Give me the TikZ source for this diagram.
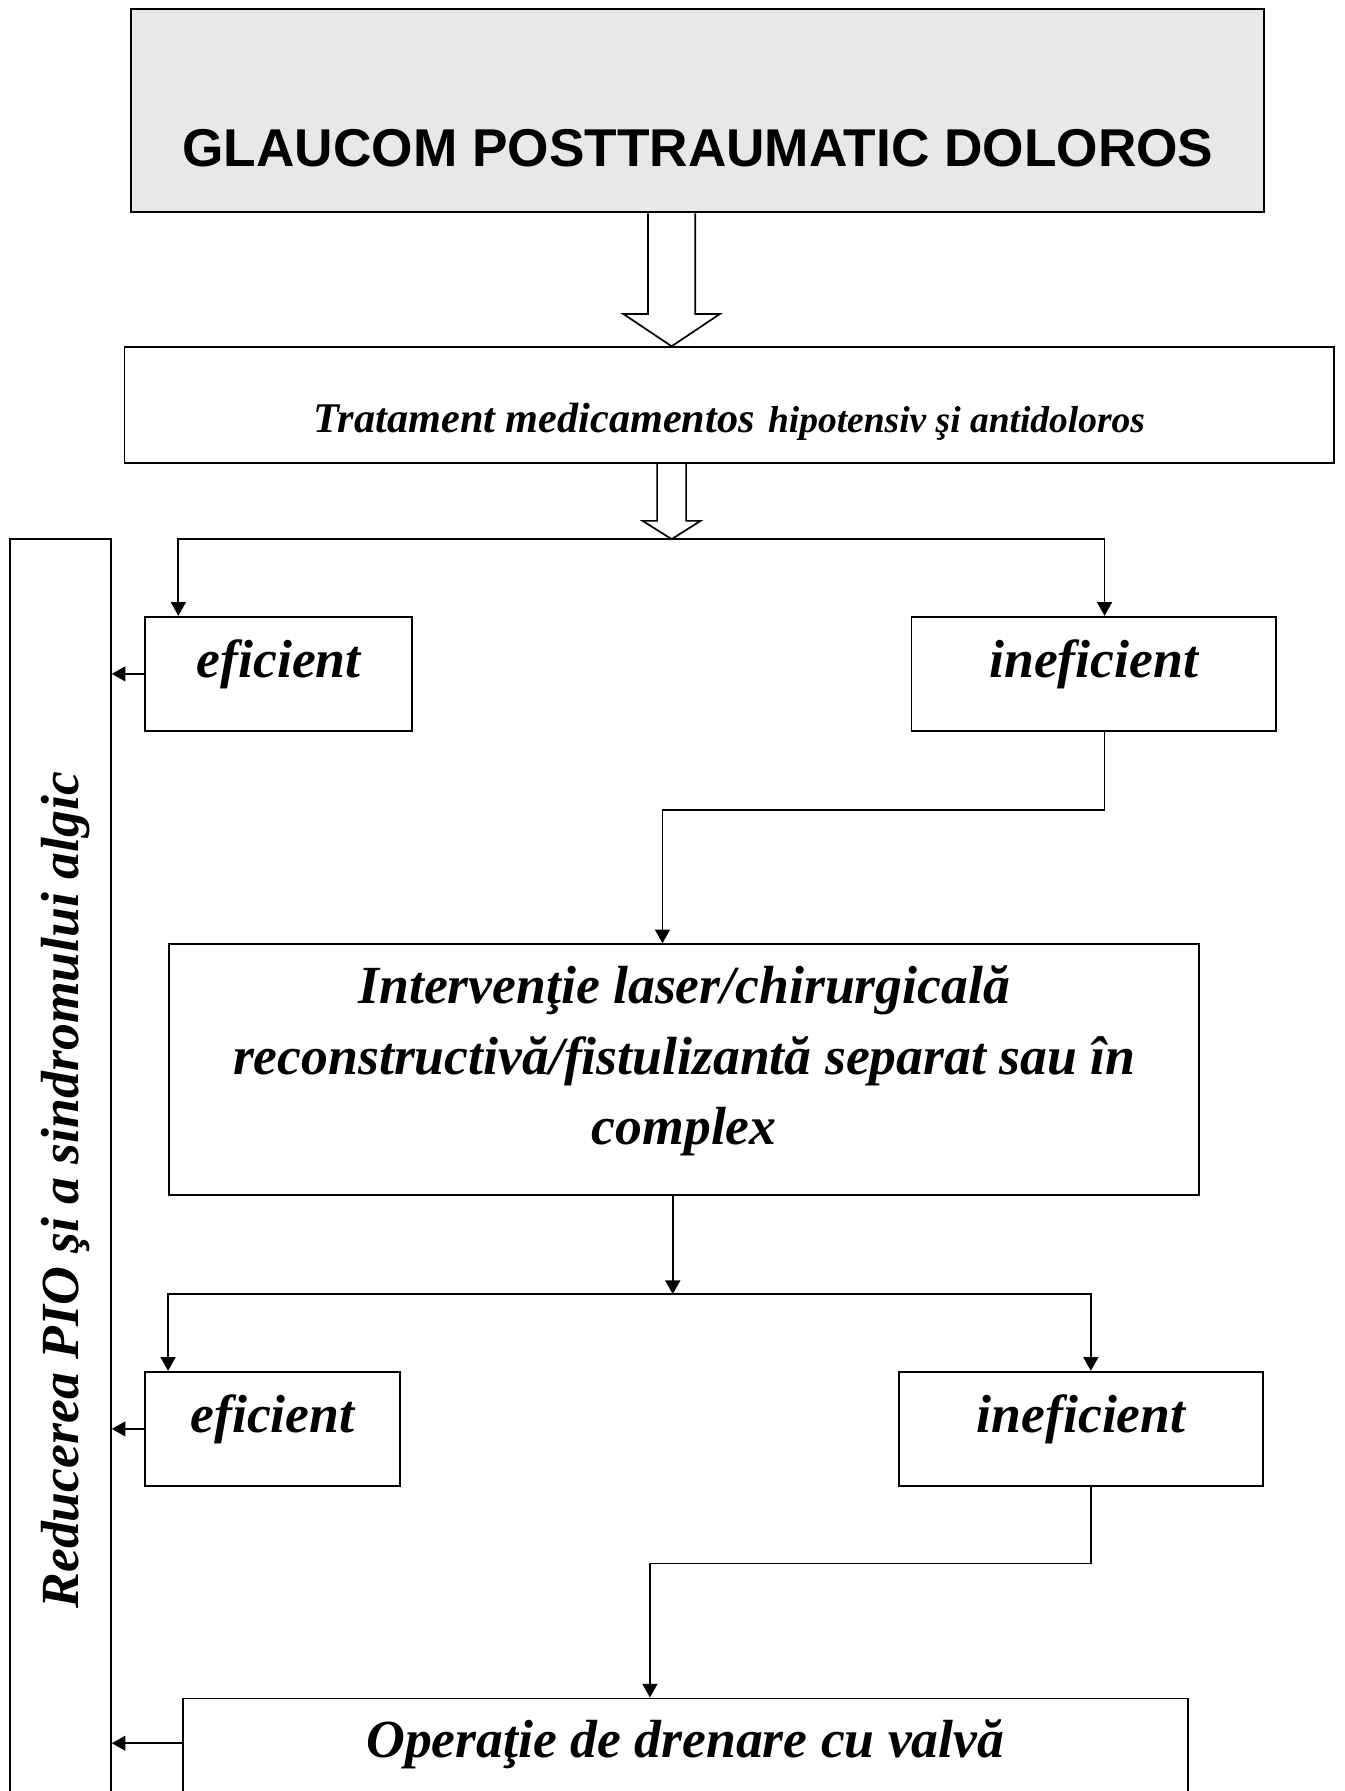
\documentclass[tikz,border=0pt]{standalone}
\usepackage{fontspec}
\setmainfont{Liberation Serif}
\newfontfamily\arialfont{Liberation Sans}
\usetikzlibrary{shapes,arrows.meta,calc}

\begin{document}
\begin{tikzpicture}[x=0.5pt,y=-0.5pt]
    \tikzset{caja/.style = {shape=rectangle,draw,line width=0.85pt,inner sep=0pt,align=center,font=\fontsize{23.5}{30.8}\selectfont\bfseries\itshape}}
    \tikzset{Titulo/.style = {caja,fill=black!9,font=\fontsize{23.3}{28}\selectfont\arialfont\bfseries}}
    \tikzset{Lateral/.style = {caja,rotate=90}}
    \tikzset{Resultado/.style = {caja,text height=26.4pt,text depth=23.6pt}}

    \tikzset{flecha/.style = {-{Triangle[length=6pt,width=6.5pt]},line width=0.8pt}}
    \tikzset{hueca/.style = {line width=0.75pt,line join=miter}}

    \useasboundingbox (0,0) rectangle (1177,1568);
    \clip (0,0) rectangle (1177,1568);

    \node[Titulo, minimum width=496pt, text height=68.8pt, text depth=20.2pt] (titulo) at (611,97) {GLAUCOM POSTTRAUMATIC DOLOROS};
    \node[caja, minimum width=529.5pt, text height=37.5pt, text depth=13pt] (tratamiento) at (638.5,354.5)
        {{\fontsize{18.5}{22}\selectfont Tratament medicamentos} {\fontsize{16.4}{20}\selectfont hipotensiv şi antidoloros}};

    \node[Resultado, minimum width=117pt] (efic1) at (244,590) {eficient};
    \node[Resultado, minimum width=159.5pt] (inefic1) at (957.5,590) {ineficient};

    \node[caja, minimum width=451pt, text height=87.6pt, text depth=22.3pt] (interv) at (599,936.6)
        {Intervenţie laser/chirurgicală\\ reconstructivă/fistulizantă separat sau în\\ complex};

    \node[Resultado, minimum width=111.5pt] (efic2) at (238.5,1251) {eficient};
    \node[Resultado, minimum width=159.5pt] (inefic2) at (946.5,1251) {ineficient};

    \node[caja, minimum width=440pt, text height=26pt, text depth=74pt] (drenaj) at (600,1587) {Operaţie de drenare cu valvă};

    \node[Lateral, minimum width=570pt, text height=29.75pt, text depth=14.25pt] (reducerea) at (53,1042) {Reducerea PIO şi a sindromului algic};

    % flechas huecas
    \coordinate (eje) at (588,0);
    \coordinate (bif1) at (588,472);
    \draw[hueca] let \p1=(titulo.south -| eje), \p2=(tratamiento.north -| eje) in
        (\x1-10.35pt,\y1) -- (\x1-10.35pt,\y2+14.15pt) -- (\x1-21.15pt,\y2+14.15pt) -- (\x2,\y2)
        -- (\x1+21.15pt,\y2+14.15pt) -- (\x1+10.35pt,\y2+14.15pt) -- (\x1+10.35pt,\y1);
    \draw[hueca] let \p1=(tratamiento.south -| eje), \p2=(bif1) in
        (\x1-6.35pt,\y1) -- (\x1-6.35pt,\y2+8pt) -- (\x1-12.7pt,\y2+8pt) -- (\x2,\y2)
        -- (\x1+12.7pt,\y2+8pt) -- (\x1+6.35pt,\y2+8pt) -- (\x1+6.35pt,\y1);

    \draw[flecha] (bif1) -| ($(efic1.north west)+(30,0)$);
    \draw[flecha] (bif1) -| ($(inefic1.north)+(9.5,0)$);
    \draw[flecha] ($(inefic1.south)+(9.5,0)$) -- ++(0,68) -| ($(interv.north)+(-19,0)$);

    \coordinate (bif2) at (589,1133);
    \draw[flecha] ($(interv.south)+(-10,0)$) -- (bif2);
    \draw[flecha] (bif2) -| ($(efic2.north west)+(21,0)$);
    \draw[flecha] (bif2) -| ($(inefic2.north)+(8.5,0)$);
    \draw[flecha] ($(inefic2.south)+(8.5,0)$) -- ++(0,67) -| ($(drenaj.north)+(-31,0)$);

    % hacia la caja lateral
    \coordinate (salida) at ($(drenaj.north west)+(0,40)$);
    \draw[flecha] (efic1.west) -- (efic1.west -| reducerea.south);
    \draw[flecha] (efic2.west) -- (efic2.west -| reducerea.south);
    \draw[flecha] (salida) -- (salida -| reducerea.south);

\end{tikzpicture}
\end{document}
